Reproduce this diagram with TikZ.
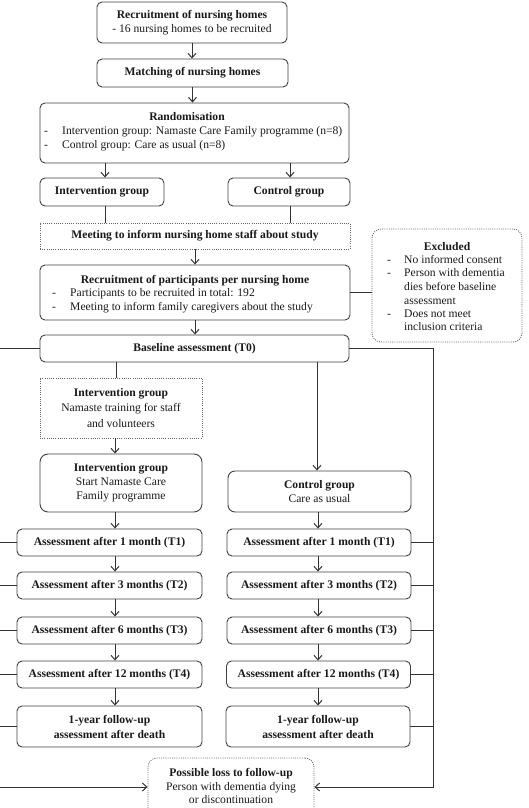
\documentclass[tikz,border=0pt]{standalone}
\usepackage{fontspec}
\setmainfont{Liberation Serif}
\usetikzlibrary{arrows.meta,calc}
\begin{document}
\begin{tikzpicture}[x=1pt,y=-1pt,
  every node/.style={font=\fontsize{11.6}{13.8}\selectfont, text=black!90},
  box/.style={draw=black!75, line width=0.9pt, rounded corners=5pt, inner sep=0pt, align=center},
  dbox/.style={draw=black!60, line width=0.8pt, dash pattern=on 1pt off 1.2pt, inner sep=0pt, align=center},
  conn/.style={draw=black!80, line width=1pt},
  arr/.style={conn, -{Straight Barb[length=4.5pt,width=8pt]}},
  txt/.style={inner sep=0pt, text height=8pt, text depth=1pt},
]
\useasboundingbox (0,0) rectangle (528,808);

% top chain
\node[box, minimum width=190pt, minimum height=41pt] (rec1) at (192,22.5) {\textbf{Recruitment of nursing homes}\\- 16 nursing homes to be recruited};
\node[box, minimum width=191pt, minimum height=28pt] (match) at (192.5,73) {\textbf{Matching of nursing homes}};
\node[box, minimum width=309pt, minimum height=60pt] (rand) at (194.5,133) {};
\node[txt] (randT) at (187,117) {\textbf{Randomisation}};
\node[txt, anchor=west] (randd1) at (44,131) {-};
\node[txt, anchor=west] (rand1) at (62,131) {Intervention group: Namaste Care Family programme (n=8)};
\node[txt, anchor=west] (randd2) at (44,145) {-};
\node[txt, anchor=west] (rand2) at (62,145) {Control group: Care as usual (n=8)};

\node[box, minimum width=124pt, minimum height=28pt] (intg) at (102,192) {\textbf{Intervention group}};
\node[box, minimum width=122pt, minimum height=28pt] (ctrlg) at (289,192) {\textbf{Control group}};
\node[dbox, minimum width=310pt, minimum height=26pt] (meet) at (195,236) {\textbf{Meeting to inform nursing home staff about study}};

\node[box, minimum width=310pt, minimum height=55pt] (recp) at (195,292.5) {};
\node[txt] (recpT) at (195,280) {\textbf{Recruitment of participants per nursing home}};
\node[txt, anchor=west] (recpd1) at (52,293) {-};
\node[txt, anchor=west] (recp1) at (70,293) {Participants to be recruited in total: 192};
\node[txt, anchor=west] (recpd2) at (52,307) {-};
\node[txt, anchor=west] (recp2) at (70,307) {Meeting to inform family caregivers about the study};

\node[dbox, rounded corners=9pt, minimum width=150pt, minimum height=113pt] (excl) at (447,285.5) {};
\node[txt] (exclT) at (447,247) {\textbf{Excluded}};
\node[txt, anchor=west] (excld1) at (387,260) {-};
\node[txt, anchor=west] (excl1) at (404,260) {No informed consent};
\node[txt, anchor=west] (excld2) at (387,273) {-};
\node[txt, anchor=west] (excl2) at (404,273) {Person with dementia};
\node[txt, anchor=west] (excl3) at (404,287) {dies before baseline};
\node[txt, anchor=west] (excl4) at (404,301) {assessment};
\node[txt, anchor=west] (excld3) at (387,314) {-};
\node[txt, anchor=west] (excl5) at (404,314) {Does not meet};
\node[txt, anchor=west] (excl6) at (404,327) {inclusion criteria};

\node[box, minimum width=309pt, minimum height=27pt] (base) at (194.5,348.5) {\textbf{Baseline assessment (T0)}};

% intervention column
\node[dbox, minimum width=162pt, minimum height=60pt, font=\fontsize{11.6}{15.5}\selectfont] (train) at (121,408) {\textbf{Intervention group}\\Namaste training for staff\\and volunteers};
\node[box, rounded corners=8pt, minimum width=162pt, minimum height=58pt] (istart) at (121,483) {\textbf{Intervention group}\\Start Namaste Care\\Family programme};
\node[box, minimum width=185pt, minimum height=27pt] (lT1) at (109.5,542.5) {\textbf{Assessment after 1 month (T1)}};
\node[box, minimum width=185pt, minimum height=27pt] (lT2) at (109.5,585.5) {\textbf{Assessment after 3 months (T2)}};
\node[box, minimum width=185pt, minimum height=27pt] (lT3) at (109.5,630.5) {\textbf{Assessment after 6 months (T3)}};
\node[box, minimum width=185pt, minimum height=27pt] (lT4) at (109.5,674.5) {\textbf{Assessment after 12 months (T4)}};
\node[box, minimum width=185pt, minimum height=41pt, font=\fontsize{11.6}{15}\selectfont] (lFU) at (109.5,726.5) {\textbf{1-year follow-up}\\\textbf{assessment after death}};

% control column
\node[box, rounded corners=7pt, minimum width=183pt, minimum height=41pt] (cstart) at (319.5,491.5) {\textbf{Control group}\\Care as usual};
\node[box, minimum width=184pt, minimum height=27pt] (rT1) at (319,542.5) {\textbf{Assessment after 1 month (T1)}};
\node[box, minimum width=184pt, minimum height=27pt] (rT2) at (319,585.5) {\textbf{Assessment after 3 months (T2)}};
\node[box, minimum width=184pt, minimum height=27pt] (rT3) at (319,630.5) {\textbf{Assessment after 6 months (T3)}};
\node[box, minimum width=184pt, minimum height=27pt] (rT4) at (318.5,674.5) {\textbf{Assessment after 12 months (T4)}};
\node[box, minimum width=184pt, minimum height=41pt, font=\fontsize{11.6}{15}\selectfont] (rFU) at (318,726.5) {\textbf{1-year follow-up}\\\textbf{assessment after death}};

% loss box
\node[dbox, rounded corners=9pt, minimum width=166pt, minimum height=58pt] (loss) at (231,787) {};
\node[txt] (lossT) at (231,773) {\textbf{Possible loss to follow-up}};
\node[txt] (loss1) at (231,787) {Person with dementia dying};
\node[txt] (loss2) at (231,800) {or discontinuation};

% helper coordinates
\coordinate (lc) at (115,0);
\coordinate (rc) at (318,0);
\coordinate (ll) at (-3,0);
\coordinate (rr) at (433,0);
\coordinate (ia) at (105,0);
\coordinate (ca) at (290,0);
\coordinate (tb) at (116,0);

% connectors top
\draw[arr] (rec1.south) -- (rec1.south |- match.north);
\draw[arr] (match.south) -- (match.south |- rand.north);
\draw[arr] (ia |- rand.south) -- (ia |- intg.north);
\draw[arr] (ca |- rand.south) -- (ca |- ctrlg.north);
\draw[conn] (ia |- intg.south) -- (ia |- meet.north);
\draw[conn] (ca |- ctrlg.south) -- (ca |- meet.north);
\draw[arr] (meet.south -| recp.north) -- (recp.north);
\draw[arr] (recp.south) -- (recp.south |- base.north);
\draw[conn] (recp.east) -- (excl.west |- recp.east);

% baseline to columns
\draw[conn] (tb |- base.south) -- (tb |- train.north);
\draw[arr] (317,0 |- base.south) -- (317,0 |- cstart.north);
\draw[arr] (lc |- train.south) -- (lc |- istart.north);
\draw[arr] (lc |- istart.south) -- (lc |- lT1.north);
\draw[arr] (lc |- lT1.south) -- (lc |- lT2.north);
\draw[arr] (lc |- lT2.south) -- (lc |- lT3.north);
\draw[arr] (lc |- lT3.south) -- (lc |- lT4.north);
\draw[arr] (lc |- lT4.south) -- (lc |- lFU.north);
\draw[arr] (rc |- cstart.south) -- (rc |- rT1.north);
\draw[arr] (rc |- rT1.south) -- (rc |- rT2.north);
\draw[arr] (rc |- rT2.south) -- (rc |- rT3.north);
\draw[arr] (rc |- rT3.south) -- (rc |- rT4.north);
\draw[arr] (rc |- rT4.south) -- (rc |- rFU.north);

% loss-to-follow-up lines
\draw[arr] (base.west) -- (ll |- base.west) -- (ll |- loss.west) -- (loss.west);
\draw[arr] (base.east) -- (rr |- base.east) -- (rr |- loss.east) -- (loss.east);
\foreach \n in {lT1,lT2,lT3,lT4,lFU} \draw[conn] (\n.west) -- (ll |- \n.west);
\foreach \n in {rT1,rT2,rT3,rT4,rFU} \draw[conn] (\n.east) -- (rr |- \n.east);
\end{tikzpicture}
\end{document}
